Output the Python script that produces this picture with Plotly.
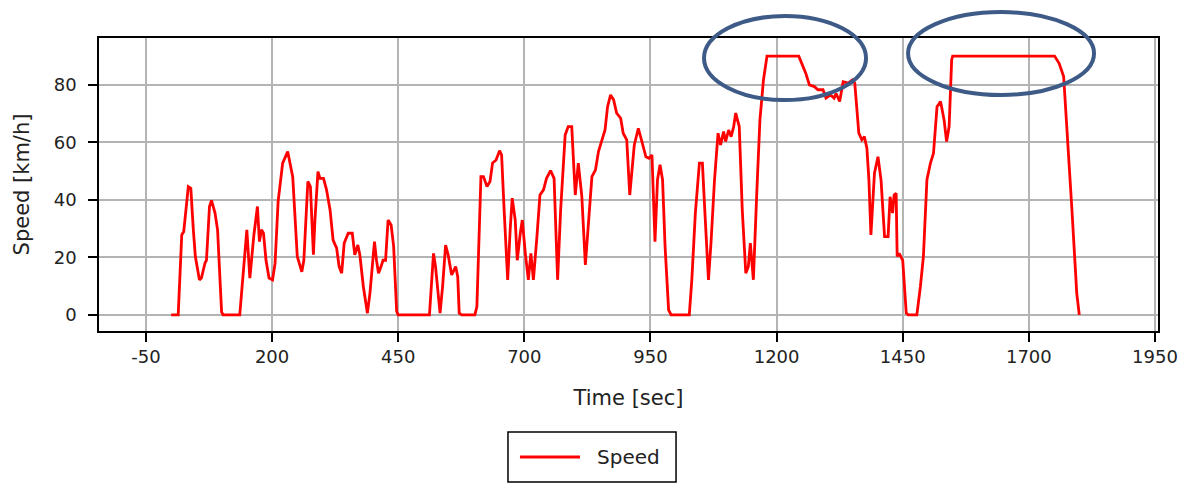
import plotly.graph_objects as go

# Drive-cycle speed trace (time in s, speed in km/h)
time_s = [0, 14, 21, 25, 34, 39, 44, 48, 56, 60, 67, 70, 76, 80, 87, 92, 100, 103, 136, 142,
          150, 156, 164, 171, 175, 179, 183, 188, 194, 201, 206, 212, 221, 231, 235, 241, 250, 259, 263, 271,
          276, 282, 285, 291, 295, 302, 308, 315, 321, 328, 333, 338, 343, 351, 359, 364, 370, 374, 381, 389,
          394, 403, 407, 411, 416, 420, 425, 430, 436, 441, 447, 450, 512, 520, 524, 533, 538, 544, 549, 556,
          564, 568, 571, 576, 602, 606, 614, 619, 626, 632, 637, 644, 651, 655, 660, 667, 672, 676, 682, 686,
          692, 696, 702, 708, 713, 718, 725, 731, 738, 744, 752, 759, 766, 772, 781, 787, 794, 801, 807, 814,
          821, 827, 834, 841, 847, 854, 860, 865, 871, 877, 883, 891, 896, 903, 909, 918, 926, 933, 941, 947,
          953, 959, 964, 969, 974, 979, 986, 991, 1027, 1032, 1039, 1047, 1053, 1058, 1065, 1070, 1077, 1084, 1089, 1095,
          1099, 1105, 1110, 1115, 1119, 1126, 1132, 1139, 1144, 1148, 1154, 1161, 1167, 1174, 1181, 1244, 1258, 1265, 1275, 1282,
          1292, 1298, 1307, 1314, 1318, 1325, 1332, 1342, 1350, 1355, 1363, 1369, 1374, 1379, 1383, 1387, 1394, 1401, 1407, 1414,
          1421, 1425, 1430, 1433, 1437, 1439, 1443, 1450, 1457, 1461, 1478, 1485, 1491, 1498, 1505, 1511, 1518, 1525, 1532, 1537,
          1542, 1547, 1549, 1751, 1760, 1769, 1775, 1785, 1795, 1800]

speed_kmh = [0, 0, 27.8, 29, 44.6, 44, 29.6, 20.3, 12.2, 12.8, 18, 19, 37.7, 39.8, 35.4, 29.6, 1, 0, 0, 12.2,
             29.6, 12.8, 27.8, 37.7, 25.5, 29.6, 28.4, 19, 12.8, 12.2, 18, 39.4, 52.8, 56.8, 52.8, 48, 20.3, 15, 19, 46.4,
             44.6, 20.9, 33, 49.8, 47.5, 47.5, 43.5, 36.5, 26, 23.2, 16.8, 14.5, 25, 28.4, 28.4, 20.9, 24.3, 20.9, 9.8, 0.6,
             7.5, 25.5, 19, 14.5, 16.8, 19, 19, 33, 31.3, 23.8, 1.2, 0, 0, 21.4, 16.8, 0.6, 9.8, 24.3, 20.9, 13.9,
             16.8, 13.3, 0.6, 0, 0, 2.9, 48.1, 48.1, 44.6, 46.4, 52.8, 53.9, 57.1, 55.6, 36.5, 12.2, 29.6, 40.6, 33, 19,
             28.4, 33, 21.4, 12.2, 21.4, 12.2, 27.2, 41.7, 43.5, 47.5, 50.2, 47.5, 12.2, 36.5, 62.6, 65.5, 65.5, 41.7, 52.8, 41.1,
             17.4, 33, 48.1, 50.4, 56.8, 60.9, 64.3, 72.4, 76.5, 74.8, 70.2, 68.4, 63.2, 60.9, 41.7, 59.1, 64.9, 60.3, 55, 54.5,
             55.6, 25.5, 47, 52.2, 47, 23.8, 1.7, 0, 0, 12.2, 35.4, 52.8, 52.8, 35.4, 12.2, 25, 47, 63.2, 59.1, 63.8,
             60.3, 64.3, 62, 65.5, 70.2, 65.5, 36.5, 14.5, 16.8, 25, 12.2, 43.5, 67.8, 81.7, 90, 90, 84, 80, 79.4, 78.3,
             78.3, 75.4, 76.5, 75.4, 77, 74.2, 81.1, 80.6, 81.7, 80.6, 63.2, 60.9, 62, 58, 47, 27.8, 49.3, 55, 47, 27.2,
             27.2, 41.1, 35.4, 41.7, 42.3, 20.3, 21.4, 19, 0.6, 0, 0, 9.8, 20.3, 47, 52.8, 56.2, 72.4, 74.2, 67.8, 60.3,
             65.5, 88.7, 90, 90, 87.5, 82.9, 66.7, 37.7, 7.5, 0]

x_ticks = [-50, 200, 450, 700, 950, 1200, 1450, 1700, 1950]
x_tick_text = ["-50", "200", "450", "700", "950", "1200", "1450", "1700", "1950"]
y_ticks = [0, 20, 40, 60, 80]

FONT = "DejaVu Sans"
TEXT = "#222222"
GRID = "#b4b4b4"
RING = "#3d5b86"
LINE_RED = "#ff0000"

fig = go.Figure()
fig.add_trace(go.Scatter(
    x=time_s, y=speed_kmh, mode="lines", name="Speed",
    line=dict(color=LINE_RED, width=2.8),
    showlegend=False,
))

axis_common = dict(
    showline=True, linecolor="black", linewidth=1.5, mirror=True,
    showgrid=True, gridcolor=GRID, gridwidth=1.5,
    ticks="outside", ticklen=9, tickwidth=1.5, tickcolor="black",
    zeroline=False,
    tickfont=dict(family=FONT, size=18, color=TEXT),
)

fig.update_xaxes(
    range=[-143, 1956], tickvals=x_ticks, ticktext=x_tick_text,
    title=dict(text="Time [sec]", font=dict(family=FONT, size=21, color=TEXT), standoff=24),
    **axis_common,
)
fig.update_yaxes(
    range=[-5.6, 96.3], tickvals=y_ticks, ticklabelstandoff=8,
    title=dict(text="Speed [km/h]", font=dict(family=FONT, size=21, color=TEXT), standoff=18),
    **axis_common,
)

# Highlight rings around the speed-limited plateaus
fig.add_shape(type="circle", xref="paper", yref="paper",
              x0=0.5713, x1=0.7243, y0=0.788, y1=1.075,
              line=dict(color=RING, width=4), layer="above")
fig.add_shape(type="circle", xref="paper", yref="paper",
              x0=0.764, x1=0.9396, y0=0.8055, y1=1.0887,
              line=dict(color=RING, width=4), layer="above")

# Legend box below the axes: frame, line sample and label
fig.add_shape(type="rect", xref="paper", yref="paper",
              x0=0.3862, x1=0.5449, y0=-0.5154, y1=-0.3447,
              line=dict(color="black", width=1.5), fillcolor="white")
fig.add_shape(type="line", xref="paper", yref="paper",
              x0=0.3975, x1=0.4542, y0=-0.43, y1=-0.43,
              line=dict(color=LINE_RED, width=2.8))
fig.add_annotation(text="Speed", xref="paper", yref="paper",
                   x=0.4684, y=-0.43, xanchor="left", yanchor="middle",
                   showarrow=False, font=dict(family=FONT, size=20, color=TEXT))

fig.update_layout(
    width=1195, height=484,
    margin=dict(l=99, r=37, t=38, b=153),
    paper_bgcolor="white", plot_bgcolor="white",
    showlegend=False,
)

fig.write_html("out.html")
